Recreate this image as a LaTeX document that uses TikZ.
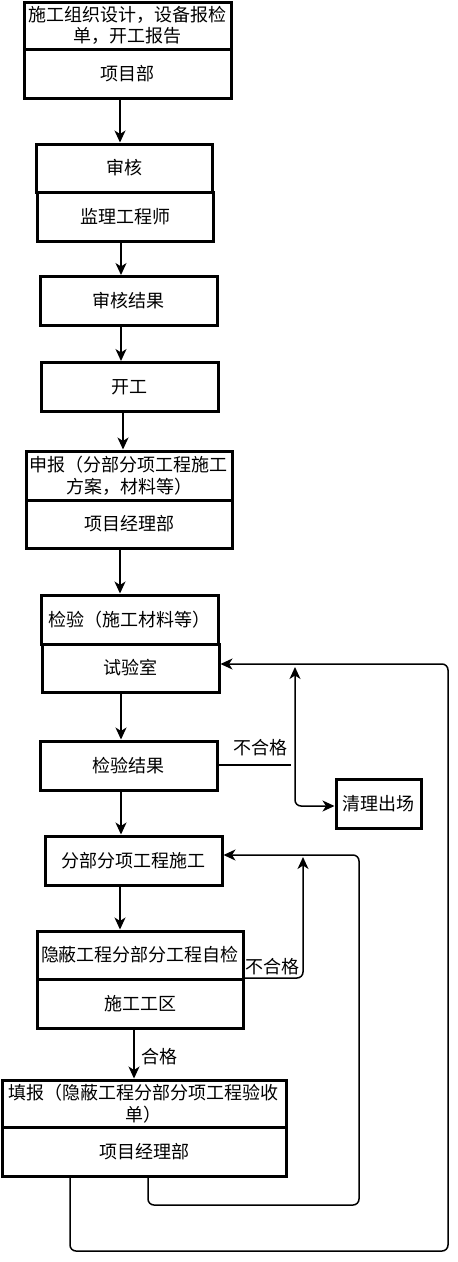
\documentclass[tikz,border=0pt]{standalone}
\usepackage{fontspec}
\newfontfamily\cjk{Noto Sans CJK SC}
\usetikzlibrary{arrows.meta,calc}
\begin{document}
\begin{tikzpicture}[x=1pt,y=-1pt,
  box/.style={draw=black,line width=3pt,fill=white,inner sep=0pt,align=center,
    font=\cjk\fontsize{18}{21.6}\selectfont},
  conn/.style={line width=1.5pt,rounded corners=6pt},
  arr/.style={conn,-{Stealth[length=12pt,width=11pt,inset=3.5pt]}},
  arrb/.style={conn,{Stealth[length=12pt,width=11pt,inset=3.5pt]}-{Stealth[length=12pt,width=11pt,inset=3.5pt]}},
  lbl/.style={font=\cjk\fontsize{18}{21.6}\selectfont,inner sep=0pt}]
\useasboundingbox (0,0) rectangle (458,1262);
% boxes
\node[box,minimum width=207pt,minimum height=47pt] (A1) at (127.5,25.5) {施工组织设计，设备报检\\单，开工报告};
\node[box,minimum width=207pt,minimum height=49pt] (A2) at (127.5,73.5) {项目部};
\node[box,minimum width=176pt,minimum height=48pt] (B1) at (124,168) {审核};
\node[box,minimum width=176pt,minimum height=49pt] (B2) at (125,216.5) {监理工程师};
\node[box,minimum width=177pt,minimum height=49pt] (C) at (128.5,301) {审核结果};
\node[box,minimum width=177pt,minimum height=49pt] (D) at (129.5,387) {开工};
\node[box,minimum width=206pt,minimum height=49pt] (E1) at (129,475.5) {申报（分部分项工程施工\\方案，材料等）};
\node[box,minimum width=206pt,minimum height=48pt] (E2) at (129,524) {项目经理部};
\node[box,minimum width=177pt,minimum height=49pt] (F1) at (129.5,619.5) {};
\node[lbl,anchor=west] (F1t) at (48,619.5) {检验（施工材料等）};
\node[box,minimum width=177pt,minimum height=48pt] (F2) at (130.5,668) {试验室};
\node[box,minimum width=177pt,minimum height=49pt] (G) at (128.5,765.5) {检验结果};
\node[box,minimum width=85pt,minimum height=49pt] (H) at (378.5,803.5) {清理出场};
\node[box,minimum width=177pt,minimum height=49pt] (I) at (133.5,860.5) {分部分项工程施工};
\node[box,minimum width=206pt,minimum height=48pt] (J1) at (140,955) {隐蔽工程分部分工程自检};
\node[box,minimum width=206pt,minimum height=49pt] (J2) at (140,1003.5) {施工工区};
\node[box,minimum width=284pt,minimum height=47pt] (K1) at (144,1103.5) {填报（隐蔽工程分部分项工程验收\\单）};
\node[box,minimum width=284pt,minimum height=49pt] (K2) at (144,1151.5) {项目经理部};
% vertical arrows
\draw[arr] (120,0 |- A2.south) -- (120,0 |- B1.north);
\draw[arr] (121,0 |- B2.south) -- (121,0 |- C.north);
\draw[arr] (121,0 |- C.south) -- (121,0 |- D.north);
\draw[arr] (123,0 |- D.south) -- (123,0 |- E1.north);
\draw[arr] (120,0 |- E2.south) -- (120,0 |- F1.north);
\draw[arr] (121,0 |- F2.south) -- (121,0 |- G.north);
\draw[arr] (121,0 |- G.south) -- (121,0 |- I.north);
\draw[arr] (120,0 |- I.south) -- (120,0 |- J1.north);
\draw[arr] (134,0 |- J2.south) -- (134,0 |- K1.north) node[lbl,pos=0.56,anchor=west,xshift=7pt] (ok) {合格};
% fail branch from 检验结果
\coordinate (g1) at (291,765);
\draw[conn] (G.east |- g1) -- (g1);
\node[lbl] (ng1) at (260,748) {不合格};
\coordinate (v1) at (295,667);
\coordinate (v2) at (295,806);
\draw[arrb] (v1) -- (v2) -- (v2 -| H.west);
% fail branch from 隐蔽工程自检
\coordinate (j1) at (303,978);
\coordinate (j2) at (303,857);
\draw[arr] (J1.east |- j1) -- (j1) -- (j2);
\node[lbl] (ng2) at (272,967) {不合格};
% inner loop back to 分部分项工程施工
\coordinate (l1) at (148,1205);
\coordinate (l2) at (359,855);
\draw[arr] (148,0 |- K2.south) -- (l1) -- (l1 -| l2) -- (l2) -- (I.east |- l2);
% outer loop back to 试验室
\coordinate (o1) at (70,1251);
\coordinate (o2) at (448,664);
\draw[arr] (70,0 |- K2.south) -- (o1) -- (o1 -| o2) -- (o2) -- (F2.east |- o2);
\end{tikzpicture}
\end{document}
